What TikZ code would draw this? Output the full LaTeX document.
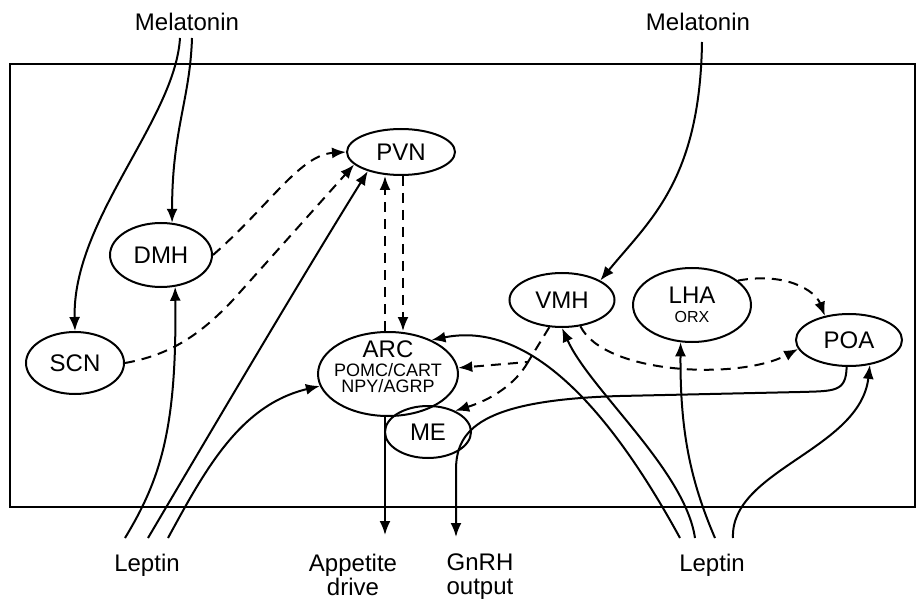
\documentclass[tikz,border=0pt]{standalone}
\usepackage{fontspec}
\setmainfont{Liberation Sans}
\usetikzlibrary{arrows.meta,shapes.geometric,calc}

\begin{document}
\begin{tikzpicture}[x=0.5pt,y=-0.5pt,line width=1pt,
  region/.style={draw,ellipse,inner sep=0pt,font=\fontsize{12}{12}\selectfont},
  signal/.style={inner sep=0pt,align=center,anchor=north,font=\fontsize{12}{12}\selectfont},
  feed/.style={-{Latex[length=7pt,width=5.5pt]}},
  relay/.style={feed,dash pattern=on 5pt off 3.5pt}]
\useasboundingbox (0,0) rectangle (917,599);

% hypothalamus
\draw (10,64) rectangle (915,507);

% regions
\node[region,minimum width=54pt,minimum height=23pt] (pvn) at (401,152) {PVN};
\node[region,minimum width=51pt,minimum height=32pt] (dmh) at (161,255) {DMH};
\node[region,minimum width=49pt,minimum height=31pt] (scn) at (75,363) {SCN};
\node[region,minimum width=70pt,minimum height=42pt,inner xsep=-4pt,inner ysep=-4pt,
  text depth=7pt,font=\fontsize{9}{8}\selectfont,align=center] (arc) at (388,374)
  {{\fontsize{12}{12}\selectfont ARC}\\[1.5pt]POMC/CART\\NPY/AGRP};
\node[region,minimum width=43pt,minimum height=26pt] (me) at (428,432) {ME};
\node[region,minimum width=52.5pt,minimum height=27pt] (vmh) at (562,300) {VMH};
\node[region,minimum width=59pt,minimum height=37pt,align=center,
  font=\fontsize{12}{9.5}\selectfont] (lha) at (692,305) {LHA\\{\fontsize{8}{8}\selectfont ORX}};
\node[region,minimum width=53pt,minimum height=26pt] (poa) at (849,340) {POA};

% inputs and outputs
\node[signal] (melL) at (187,12) {Melatonin};
\node[signal] (melR) at (698,12) {Melatonin};
\node[signal] (lepL) at (147,553) {Leptin};
\node[signal] (lepR) at (712,553) {Leptin};
\node[signal] (appetite) at (353,553) {Appetite\\drive};
\node[signal] (gnrh) at (480,553) {GnRH\\output};

% free ends
\coordinate (melL a) at (180,38);
\coordinate (melL b) at (192,38);
\coordinate (melR a) at (702,42);
\coordinate (lepL a) at (125,538);
\coordinate (lepL b) at (148,538);
\coordinate (lepL c) at (168,538);
\coordinate (lepR a) at (680,538);
\coordinate (lepR b) at (695,538);
\coordinate (lepR c) at (715,538);
\coordinate (lepR d) at (733,538);
\coordinate (drive) at (385,535);
\coordinate (gnrh out) at (456,537);
\coordinate (up) at (385,0);
\coordinate (down) at (403,0);
\coordinate (fork) at (528,362);

% melatonin
\draw[feed] (melL a) .. controls (175,120) and (72,220) .. (scn.north);
\draw[feed] (melL b) .. controls (190,100) and (172,130) .. (dmh.71);
\draw[feed] (melR a) .. controls (700,180) and (650,220) .. (vmh.27);

% leptin, left
\draw[feed] (lepL a) .. controls (160,480) and (177,430) .. (dmh.-66);
\draw[feed] (lepL b) .. controls (200,450) and (300,280) .. (pvn.210);
\draw[feed] (lepL c) .. controls (205,470) and (240,405) .. (arc.190);

% leptin, right
\draw[feed] (lepR a) .. controls (610,410) and (530,320) .. (arc.38);
\draw[feed] (lepR b) .. controls (685,470) and (590,390) .. (vmh.south);
\draw[feed] (lepR c) .. controls (690,480) and (680,430) .. (lha.-107);
\draw[feed] (lepR d) .. controls (730,470) and (860,450) .. (poa.-50);

% outputs
\draw[feed] (arc.south -| drive) -- (drive);
\draw[feed] (poa.-95) .. controls (846,392) and (835,391) .. (800,392) -- (620,396)
  .. controls (480,400) and (456,430) .. (456,470) -- (gnrh out);

% dashed links
\draw[relay] (dmh.east) .. controls (270,205) and (300,155) .. (pvn.west);
\draw[relay] (scn.east) .. controls (170,355) and (200,335) .. (233,300) -- (pvn.195);
\draw[relay] (arc.north -| up) -- (pvn.south -| up);
\draw[relay] (pvn.south -| down) -- (arc.north -| down);
\draw[relay] (vmh.245) -- (fork) -- (arc.5);
\draw[relay] (fork) .. controls (515,385) and (490,400) .. (me.38);
\draw[relay] (vmh.-55) .. controls (605,375) and (740,380) .. (poa.190);
\draw[relay] (lha.28) .. controls (785,272) and (815,290) .. (poa.135);

\end{tikzpicture}
\end{document}
